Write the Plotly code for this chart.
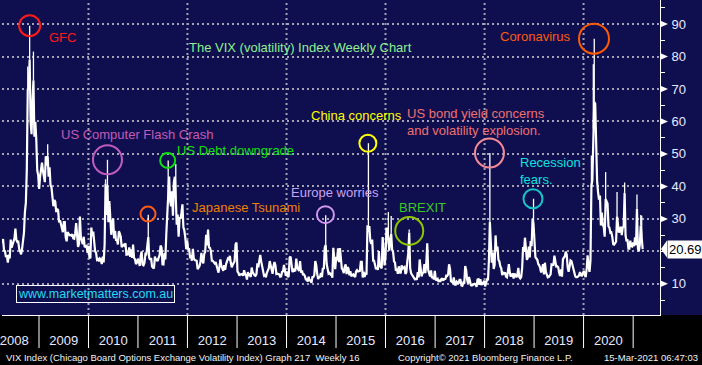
import pandas as pd
import plotly.graph_objects as go

# ---------------- data: weekly VIX closes (Friday) ----------------
vix_2008 = [22.5, 23.8, 20.3, 20.1, 18.2, 18.8, 16.5, 19.0, 17.8, 23.6, 21.1, 22.2, 23.4,
            24.0, 27.0, 23.5, 22.9, 23.0, 20.7, 20.0, 19.1, 20.7, 23.1, 25.7, 32.1, 35.0,
            45.1, 69.9, 70.3, 79.1, 59.9, 56.1, 66.3, 72.7, 55.3, 59.9, 54.3, 44.9, 43.4]
vix_2009 = [39.2, 43.0, 46.1, 47.3, 44.8, 43.4, 41.3, 49.3, 46.4, 49.3, 43.0, 45.9, 40.4,
            39.7, 36.5, 33.9, 35.8, 35.3, 32.1, 33.1, 32.6, 28.9, 29.6, 28.2, 27.0, 25.9,
            29.0, 29.0, 24.3, 23.1, 25.9, 25.4, 25.0, 25.0, 24.8, 25.3, 24.0, 23.9, 25.6,
            28.7, 23.1, 21.4, 22.3, 30.7, 24.2, 23.4, 22.2, 24.5, 21.3, 21.6, 21.7, 19.5]
vix_2010 = [21.7, 18.1, 17.9, 27.3, 24.6, 26.1, 22.7, 20.0, 19.5, 17.4, 17.6, 16.9, 17.8,
            17.5, 16.1, 18.4, 16.6, 22.1, 40.9, 31.2, 40.1, 29.0, 35.5, 28.8, 25.1, 28.5,
            30.1, 24.0, 26.3, 23.5, 23.5, 22.1, 26.2, 25.5, 24.5, 21.3, 21.9, 22.0, 21.7,
            22.5, 19.0, 19.0, 19.1, 21.2, 18.3, 20.6, 18.0, 22.1, 18.0, 17.6, 16.1, 16.5, 17.75]
vix_2011 = [17.1, 15.5, 18.5, 20.0, 15.9, 15.7, 16.4, 19.2, 19.1, 21.9, 24.4, 18.0,
            17.4, 17.9, 15.3, 15.0, 14.75, 18.4, 17.1, 17.4, 17.0, 18.1, 18.9, 21.8, 21.1,
            16.0, 15.95, 19.5, 17.5, 25.25, 32.0, 36.4, 43.05, 35.6, 33.9, 38.5, 31.0, 41.25,
            42.96, 36.3, 28.2, 31.3, 24.5, 30.5, 30.0, 32.0, 34.5, 27.5, 26.4, 24.3, 20.7, 23.4]
vix_2012 = [20.6, 20.9, 18.3, 18.5, 17.1, 20.8, 17.8, 17.3, 17.3, 17.1, 14.5, 15.0, 15.5,
            16.7, 19.55, 17.4, 16.3, 19.2, 19.9, 25.1, 21.8, 26.7, 21.2, 21.1, 20.1, 17.1,
            17.1, 16.7, 16.3, 16.7, 15.6, 14.7, 13.45, 15.2, 17.5, 15.6, 14.5, 14.0, 15.7,
            14.3, 16.1, 17.1, 17.8, 17.6, 18.6, 16.4, 15.1, 15.9, 16.6, 17.0, 22.2, 22.7]
vix_2013 = [13.8, 13.4, 12.5, 12.9, 12.9, 13.0, 12.5, 14.2, 13.1, 12.6, 11.3, 13.6, 12.7,
            12.9, 12.1, 15.0, 13.6, 12.85, 12.6, 12.45, 13.0, 16.3, 15.1, 17.15, 18.9, 16.9,
            14.9, 14.4, 12.5, 12.7, 12.0, 13.4, 14.4, 14.8, 17.0, 15.85, 14.2, 13.1, 15.5,
            16.7, 15.7, 13.0, 13.1, 13.1, 12.9, 12.2, 12.3, 13.7, 13.8, 15.8, 13.8, 12.5]
vix_2014 = [13.8, 12.1, 12.4, 18.1, 18.4, 15.3, 13.6, 14.7, 14.0, 14.1, 17.8, 15.0, 14.4,
            14.0, 17.0, 13.4, 14.1, 12.9, 12.9, 12.4, 11.4, 11.4, 10.7, 12.2, 10.85, 11.3,
            10.3, 12.1, 12.1, 12.7, 17.0, 15.8, 13.15, 11.5, 12.0, 12.1, 13.3, 12.1, 14.85,
            14.55, 21.2, 22.0, 16.1, 14.0, 13.1, 13.3, 12.9, 13.3, 11.9, 21.1, 16.5, 14.5]
vix_2015 = [17.8, 17.6, 20.95, 16.7, 21.0, 17.3, 14.7, 14.3, 13.3, 15.2, 16.0, 13.0, 15.1,
            14.7, 12.6, 13.9, 12.3, 12.7, 12.9, 12.4, 12.1, 13.8, 14.2, 13.8, 14.0, 14.0,
            16.8, 16.8, 11.95, 13.7, 12.1, 13.4, 12.8, 28.0, 26.05, 27.8, 23.2, 22.3, 23.6,
            17.1, 17.1, 15.05, 14.5, 15.1, 14.3, 20.1, 15.5, 15.1, 14.8, 24.4, 20.7, 15.7]
vix_2016 = [18.2, 27.0, 27.0, 22.3, 20.2, 23.4, 25.4, 20.5, 19.8, 16.9, 16.5, 14.0, 14.7,
            13.1, 15.4, 13.6, 13.2, 15.7, 14.7, 15.0, 15.2, 13.1, 13.5, 17.0, 19.4, 25.8,
            14.8, 13.2, 12.7, 12.0, 11.9, 11.4, 11.55, 11.3, 13.6, 12.0, 17.5, 15.4, 12.3,
            13.3, 13.5, 16.1, 13.3, 16.2, 22.5, 14.2, 12.85, 12.3, 14.1, 11.75, 12.2, 11.4, 14.0]
vix_2017 = [11.3, 11.2, 11.5, 10.6, 11.0, 10.85, 11.5, 11.5, 11.0, 11.7, 11.3, 12.5, 12.4,
            12.9, 16.0, 14.6, 10.8, 10.6, 10.4, 12.0, 9.8, 9.75, 10.7, 10.4, 10.0, 11.2,
            11.2, 9.5, 9.4, 10.3, 10.0, 15.5, 14.3, 11.3, 10.1, 12.1, 10.2, 9.6, 9.5,
            9.65, 9.6, 10.0, 9.8, 9.1, 11.3, 11.4, 9.7, 11.4, 9.6, 10.5, 9.9, 11.0]
vix_2018 = [9.2, 10.2, 11.3, 11.1, 17.3, 29.1, 19.5, 16.5, 19.6, 14.6, 15.8, 24.9, 20.0,
            21.5, 17.4, 16.9, 15.4, 14.8, 12.65, 13.4, 13.2, 13.5, 12.2, 12.0, 13.8, 16.1,
            13.4, 12.2, 12.9, 13.0, 11.6, 13.2, 12.6, 12.0, 12.9, 14.9, 12.1, 11.7, 12.1,
            14.8, 21.3, 19.9, 24.2, 19.5, 17.4, 18.1, 21.5, 18.1, 23.2, 21.6, 30.1, 28.3]
vix_2019 = [21.4, 18.2, 17.8, 17.4, 16.1, 15.7, 14.9, 13.5, 14.6, 16.05, 12.9, 16.5, 13.7,
            12.8, 12.0, 12.1, 12.7, 12.9, 16.0, 15.96, 15.85, 18.7, 16.3, 15.3, 15.4, 15.1,
            13.3, 12.4, 14.45, 12.2, 17.6, 17.97, 18.5, 19.9, 18.98, 15.0, 13.7, 15.3, 17.2,
            17.0, 15.6, 14.25, 12.65, 12.3, 12.07, 12.05, 12.3, 12.6, 13.6, 12.6, 12.5, 13.4]
vix_2020 = [14.0, 12.6, 12.1, 14.6, 18.8, 15.5, 13.7, 17.1, 40.1, 41.9, 57.8, 66.0, 65.5,
            46.8, 41.7, 38.2, 35.9, 37.2, 28.0, 31.9, 28.2, 27.5, 24.5, 36.1, 35.1, 34.7,
            27.7, 27.3, 25.7, 25.8, 24.5, 22.2, 22.05, 22.5, 22.96, 30.75, 26.9, 25.8, 26.4,
            27.6, 25.0, 27.4, 27.55, 38.0, 24.9, 23.1, 23.7, 20.8, 20.8, 23.3, 21.6, 21.5]
vix_2021 = [22.75, 21.6, 24.3, 21.9, 33.1, 20.9, 20.0, 22.05, 27.95, 24.7, 20.69]

first_fridays = ["2008-04-04", "2009-01-02", "2010-01-01", "2011-01-07", "2012-01-06",
                 "2013-01-04", "2014-01-03", "2015-01-02", "2016-01-01", "2017-01-06",
                 "2018-01-05", "2019-01-04", "2020-01-03", "2021-01-01"]
yearly_values = [vix_2008, vix_2009, vix_2010, vix_2011, vix_2012, vix_2013, vix_2014,
                 vix_2015, vix_2016, vix_2017, vix_2018, vix_2019, vix_2020, vix_2021]

# intraweek highs that poke out above the weekly close
spike_dates = ["2008-10-10", "2008-10-24", "2008-11-21", "2009-03-06", "2010-05-07",
               "2010-05-21", "2011-03-18", "2011-08-12", "2011-10-07", "2014-10-17",
               "2015-08-28", "2016-01-22", "2016-02-12", "2016-06-24", "2018-02-09",
               "2018-12-28", "2020-02-28", "2020-03-13", "2020-03-20", "2020-06-12",
               "2020-09-04", "2020-10-30", "2021-01-29", "2021-02-26", "2021-03-05"]
spike_highs = [76.9, 89.5, 81.5, 53.0, 42.2, 48.2, 31.3, 48.0, 46.9, 31.1,
               53.3, 32.1, 30.9, 26.7, 50.3, 36.2, 49.5, 77.6, 85.5, 44.4,
               38.3, 41.2, 37.5, 31.2, 31.0]

# annotated events (circles)
event_dates = ["2008-10-24", "2010-05-21", "2011-03-16", "2011-08-08", "2014-10-15",
               "2015-08-24", "2016-06-24", "2018-02-06", "2018-12-24", "2020-03-18"]
event_levels = [89.5, 48.2, 31.5, 48.0, 31.3, 53.3, 26.3, 50.3, 36.2, 85.5]
event_colors = ["#ff1a1a", "#c05cc0", "#ff5a14", "#10e010", "#d398f0",
                "#ffff00", "#8cc400", "#f58a96", "#19c2c8", "#ff5a00"]
event_radius = [10.5, 14.5, 7.5, 7.5, 8.5, 8.5, 14, 14.5, 9.5, 15]

# captions
label_texts = ["GFC", "The VIX (volatility) Index Weekly Chart", "US Computer Flash Crash",
               "US Debt downgrade", "Japanese Tsunami", "Europe worries", "China concerns",
               "US bond yield concerns<br>and volatility explosion.", "Coronavirus",
               "Recession<br>fears.", "BREXIT"]
label_dates = ["2009-02-28", "2011-12-27", "2009-05-27", "2011-09-28", "2012-01-17",
               "2014-01-16", "2014-06-12", "2016-05-27", "2018-04-11", "2018-09-06",
               "2016-03-29"]
label_levels = [86.0, 82.9, 56.1, 51.2, 33.4, 38.0, 61.7, 59.8, 86.3, 44.7, 33.6]
label_colors = ["#ff1a1a", "#90f090", "#c45ab8", "#10e010", "#f08000", "#c8a4f4",
                "#ffff00", "#f07070", "#ff5a10", "#10e0e0", "#3cc828"]

year_labels = [str(y) for y in range(2008, 2021)]
year_mids = [f"{y}-07-02" for y in range(2008, 2021)]
year_starts = [f"{y}-01-01" for y in range(2009, 2022)]
grid_years = [f"{y}-01-01" for y in range(2010, 2022, 2)]
y_ticks = list(range(10, 100, 10))
last_value = vix_2021[-1]

X_RANGE = ["2008-04-03", "2021-07-18"]
Y_RANGE = [0.4, 97.4]
NAVY = "#0f0f4f"
GRID = "#a3a3b4"
TXT = "#e6eaff"

# ---------------- build series ----------------
dates, closes = [], []
for start, vals in zip(first_fridays, yearly_values):
    dates += list(pd.date_range(start, periods=len(vals), freq="7D"))
    closes += vals
series = pd.Series(closes, index=pd.DatetimeIndex(dates))

fig = go.Figure()
fig.add_trace(go.Scatter(x=series.index, y=series.values, mode="lines",
                         line=dict(color="white", width=2.2), hoverinfo="skip"))

sx, sy = [], []
for d, h in zip(spike_dates, spike_highs):
    i = abs(series.index - pd.Timestamp(d)).argmin()
    sx += [series.index[i], series.index[i], None]
    sy += [series.iloc[i], h, None]
fig.add_trace(go.Scatter(x=sx, y=sy, mode="lines", line=dict(color="white", width=1.3),
                         hoverinfo="skip"))

# tick labels: the last-value box sits over the "20" label
y_ticktext = ["" if abs(v - last_value) < 3 else str(v) for v in y_ticks]

shapes = []
# bottom black band
shapes.append(dict(type="rect", xref="paper", yref="paper", x0=-0.1, x1=1.2, y0=-0.5, y1=0,
                   fillcolor="black", line=dict(width=0), layer="below"))
# vertical dotted grid every two years
for g in grid_years:
    shapes.append(dict(type="line", xref="x", yref="paper", x0=g, x1=g, y0=0, y1=1,
                       line=dict(color=GRID, width=2, dash="2px,3px"), layer="below"))
# year separators in the band
for s in year_starts:
    shapes.append(dict(type="line", xref="x", yref="paper", x0=s, x1=s, y0=0, y1=-0.105,
                       line=dict(color="white", width=1)))
# triangle tick markers on right axis
for v, t in zip(y_ticks, y_ticktext):
    if not t:
        continue
    shapes.append(dict(type="path", xref="paper", yref="y", xsizemode="pixel",
                       ysizemode="pixel", xanchor=1, yanchor=v,
                       path="M0,-3.5 L8,0 L0,3.5 Z", fillcolor="white", line=dict(width=0)))
# last value arrow
shapes.append(dict(type="path", xref="paper", yref="y", xsizemode="pixel", ysizemode="pixel",
                   xanchor=1, yanchor=last_value, path="M1,0 L7,-8.5 L7,8.5 Z",
                   fillcolor="white", line=dict(width=0)))
# event circles
for d, v, c, r in zip(event_dates, event_levels, event_colors, event_radius):
    shapes.append(dict(type="circle", xref="x", yref="y", xsizemode="pixel",
                       ysizemode="pixel", xanchor=d, yanchor=v, x0=-r, x1=r, y0=-r, y1=r,
                       line=dict(color=c, width=2)))

annotations = []
for t, d, v, c in zip(label_texts, label_dates, label_levels, label_colors):
    annotations.append(dict(text=t, x=d, y=v, xref="x", yref="y", xanchor="left",
                            yanchor="middle", align="left", showarrow=False,
                            font=dict(size=13, color=c)))
annotations.append(dict(text="www.marketmatters.com.au", x="2008-07-15", y=6.9, xref="x",
                        yref="y", xanchor="left", yanchor="middle", showarrow=False,
                        font=dict(size=12.5, color="#22dcf2"), bordercolor="white",
                        borderwidth=1, borderpad=1))
annotations.append(dict(text=f"{last_value:.2f}", x=1, y=last_value, xref="paper", yref="y",
                        xanchor="left", yanchor="middle", xshift=7, showarrow=False,
                        bgcolor="white", font=dict(size=13, color="black"), borderpad=1))
foot_y = -(357 - 315) / 315
annotations.append(dict(text="VIX Index (Chicago Board Options Exchange Volatility Index) Graph 217  Weekly 16",
                        x=0, y=foot_y, xref="paper", yref="paper", xanchor="left",
                        yanchor="middle", xshift=2, showarrow=False,
                        font=dict(size=9.5, color="#f2f2f2")))
annotations.append(dict(text="Copyright\u00a9 2021 Bloomberg Finance L.P.", x=395 / 660,
                        y=foot_y, xref="paper", yref="paper", xanchor="left",
                        yanchor="middle", showarrow=False, font=dict(size=9.5, color="#f2f2f2")))
annotations.append(dict(text="15-Mar-2021 06:47:03", x=700 / 660, y=foot_y, xref="paper",
                        yref="paper", xanchor="right", yanchor="middle", showarrow=False,
                        font=dict(size=9.5, color="#f2f2f2")))

fig.update_layout(
    width=702, height=365, margin=dict(l=0, r=42, t=0, b=50),
    paper_bgcolor=NAVY, plot_bgcolor=NAVY, showlegend=False,
    font=dict(family="Liberation Sans, Arial, sans-serif", size=13, color=TXT),
    shapes=shapes, annotations=annotations,
)
fig.update_xaxes(range=X_RANGE, tickmode="array", tickvals=year_mids, ticktext=year_labels,
                 ticks="outside", ticklen=13, tickcolor="rgba(0,0,0,0)", showgrid=False,
                 showline=True, linecolor="white", linewidth=1, zeroline=False,
                 ticklabeloverflow="allow",
                 tickfont=dict(size=13, color=TXT), fixedrange=True)
fig.update_yaxes(range=Y_RANGE, side="right", tickmode="array", tickvals=y_ticks,
                 ticktext=y_ticktext,
                 ticks="outside", ticklen=8, tickcolor="rgba(0,0,0,0)", showgrid=True,
                 gridcolor=GRID, gridwidth=2, griddash="2px,3px", showline=True,
                 linecolor="white", linewidth=1, zeroline=False,
                 tickfont=dict(size=13, color=TXT), fixedrange=True,
                 minor=dict(tick0=0, dtick=5, ticks="outside", ticklen=4, tickcolor="white",
                            showgrid=False))

fig.write_html("out.html", config={"displayModeBar": False},
               post_script="document.body.style.margin='0px';")
